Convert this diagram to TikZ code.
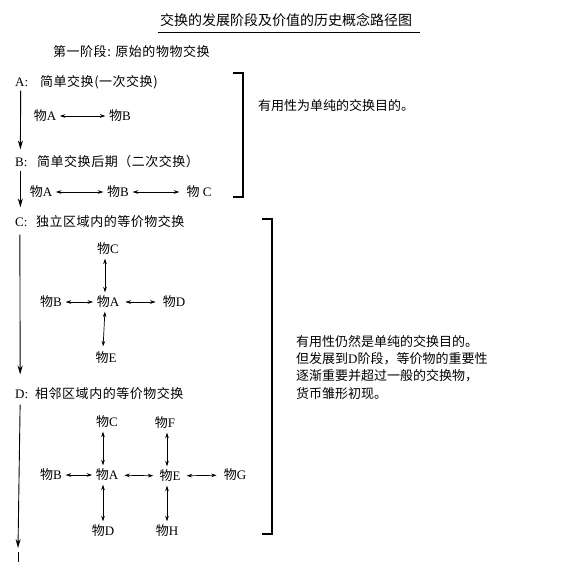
\documentclass[tikz,border=0pt]{standalone}
\usepackage{fontspec}
\setmainfont{Liberation Serif}
\newfontfamily\cjkf{Noto Sans CJK SC}
\newfontfamily\cjkw[LetterSpace=4]{Noto Sans CJK SC}
\newcommand\zhtxt[1]{{\cjkf #1}}
\newcommand\zhw[1]{{\cjkw #1}}
\usetikzlibrary{arrows.meta,calc}
\begin{document}
\begin{tikzpicture}[x=1pt,y=-1pt,
  every node/.style={inner sep=1pt},
  body/.style={font=\fontsize{13}{15}\selectfont, anchor=west},
  item/.style={font=\fontsize{13}{14}\selectfont},
  dbl/.style={{Stealth[length=5.5pt,width=3.6pt]}-{Stealth[length=5.5pt,width=3.6pt]}, line width=0.7pt, shorten <=2.5pt, shorten >=2.5pt},
  down/.style={-{Stealth[length=9pt,width=5pt]}, line width=0.9pt},
  bracket/.style={line width=2.4pt}
]
\fill[white] (0,0) rectangle (560,562);
\useasboundingbox (0,0) rectangle (560,562);

% title
\node[font=\fontsize{14}{16}\selectfont] (title) at (286,20) {\zhtxt{交换的发展阶段及价值的历史概念路径图}};
\draw[line width=0.7pt] (158,32) -- (420,32);

\node[body] (stage) at (52,52) {\zhw{第一阶段: 原始的物物交换}};

% headings
\node[body] (lA) at (14,82) {A:};
\node[body] (hA) at (39,82) {\zhw{简单交换(一次交换)}};
\node[body] (lB) at (14,162) {B:};
\node[body] (hB) at (36,162) {\zhw{简单交换后期（二次交换）}};
\node[body] (lC) at (14,222) {C:};
\node[body] (hC) at (35,222) {\zhw{独立区域内的等价物交换}};
\node[body] (lD) at (14,394) {D:};
\node[body] (hD) at (34,394) {\zhw{相邻区域内的等价物交换}};
\coordinate (endD) at (18,548);
\coordinate (nextS) at (18,552);
\coordinate (nextE) at (18,562);

\draw[down, shorten <=3pt, shorten >=7pt] ([xshift=-1pt]lA.south) -- ([xshift=-1pt]lB.north);
\draw[down, shorten <=3pt, shorten >=9pt] ([xshift=-1pt]lB.south) -- ([xshift=-1pt]lC.north);
\draw[down, shorten <=7pt, shorten >=14pt] ([xshift=-1.5pt]lC.south) -- ([xshift=-1.5pt]lD.north);
\draw[down, shorten <=5pt] ([xshift=-1.5pt]lD.south) -- (endD);
\draw[line width=0.9pt] (nextS) -- (nextE);

% row A
\node[item] (a1) at (45,116) {\zhtxt{物}A};
\node[item] (a2) at (120,116) {\zhtxt{物}B};
\draw[dbl] (a1) -- (a2);

% row B
\node[item] (b1) at (41,192) {\zhtxt{物}A};
\node[item] (b2) at (118,192) {\zhtxt{物}B};
\node[item] (b3) at (199,192) {\zhtxt{物} C};
\draw[dbl] (b1) -- (b2);
\draw[dbl, shorten >=6pt] (b2) -- (b3);

% cluster C
\node[item] (cA) at (108,302) {\zhtxt{物}A};
\node[item] (cC) at (108,249) {\zhtxt{物}C};
\node[item] (cB) at (51,302) {\zhtxt{物}B};
\node[item] (cD) at (174,302) {\zhtxt{物}D};
\node[item] (cE) at (106,358) {\zhtxt{物}E};
\draw[dbl] ([xshift=-3pt]cC.south) -- ([xshift=-3pt]cA.north);
\draw[dbl] ([xshift=-3pt]cA.south) -- ([xshift=-3pt,yshift=2pt]cE.north);
\draw[dbl] (cB) -- (cA);
\draw[dbl, shorten <=5pt, shorten >=6pt] (cA) -- (cD);

% cluster D
\node[item] (dA) at (107,475) {\zhtxt{物}A};
\node[item] (dC) at (107,422) {\zhtxt{物}C};
\node[item] (dB) at (51,475) {\zhtxt{物}B};
\node[item] (dE) at (170,476) {\zhtxt{物}E};
\node[item] (dF) at (165,423) {\zhtxt{物}F};
\node[item] (dG) at (235,475) {\zhtxt{物}G};
\node[item] (dD) at (103,531) {\zhtxt{物}D};
\node[item] (dH) at (167,531) {\zhtxt{物}H};
\draw[dbl] ([xshift=-4pt]dC.south) -- ([xshift=-4pt]dA.north);
\draw[dbl] ([xshift=-4pt]dA.south) -- ([xshift=-4pt]dA.south |- dD.north);
\draw[dbl] ([xshift=-3pt]dE.north |- dF.south) -- ([xshift=-3pt]dE.north);
\draw[dbl] ([xshift=-3pt]dE.south) -- ([xshift=-3pt]dE.south |- dH.north);
\draw[dbl] (dB) -- (dA);
\draw[dbl, shorten <=5pt, shorten >=5pt] (dA) -- (dE);
\draw[dbl, shorten <=5pt, shorten >=6pt] (dE) -- (dG);

% brackets
\coordinate (k1a) at (233,73);
\coordinate (k1b) at (243,73);
\coordinate (k1c) at (243,197);
\coordinate (k1d) at (233,197);
\draw[bracket] (k1a) -- (k1b) -- (k1c) -- (k1d);
\coordinate (k2a) at (262,219);
\coordinate (k2b) at (272,219);
\coordinate (k2c) at (272,534);
\coordinate (k2d) at (262,534);
\draw[bracket] (k2a) -- (k2b) -- (k2c) -- (k2d);

% remarks
\node[body] (r1) at (257,106) {\zhtxt{有用性为单纯的交换目的。}};
\node[font=\fontsize{13}{17.3}\selectfont, anchor=north west, align=left] (r2) at (295,334)
 {\zhtxt{有用性仍然是单纯的交换目的。}\\
  \zhtxt{但发展到}D\zhtxt{阶段，等价物的重要性}\\
  \zhtxt{逐渐重要并超过一般的交换物，}\\
  \zhtxt{货币雏形初现。}};
\end{tikzpicture}
\end{document}
